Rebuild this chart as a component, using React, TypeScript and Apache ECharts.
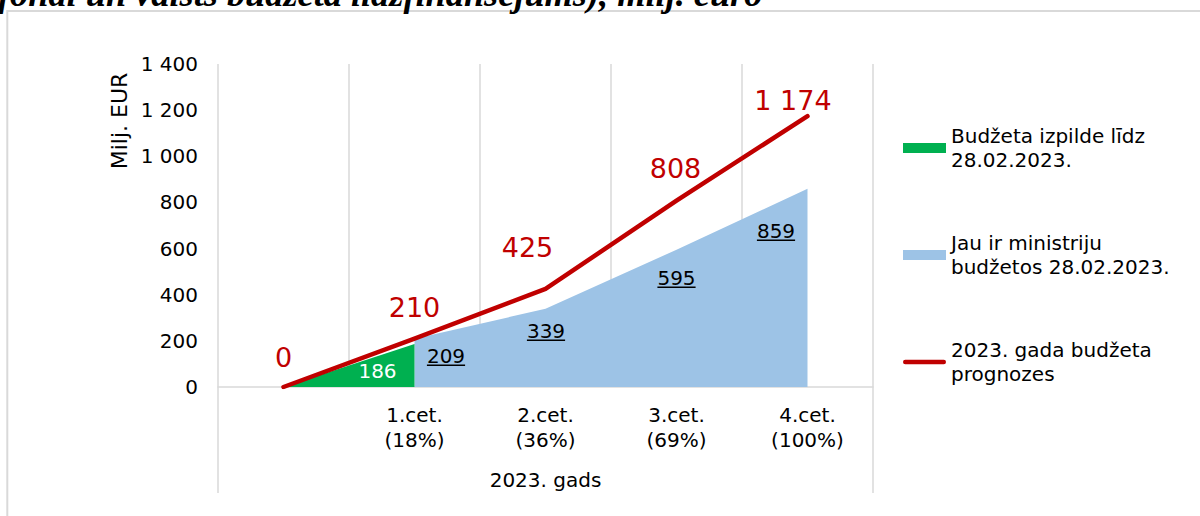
import React, { useEffect, useRef } from 'react';
import * as echarts from 'echarts';

// ---------- data ----------
const QUARTERS = ['', '1.cet.', '2.cet.', '3.cet.', '4.cet.'];
const SHARES = ['', '18%', '36%', '69%', '100%'];
const EXECUTED: (number | null)[] = [0, 186, null, null, null];
const IN_BUDGETS: (number | null)[] = [null, 209, 339, 595, 859];
const FORECAST: number[] = [0, 210, 425, 808, 1174];
const SERIES_NAMES = [
  'Budžeta izpilde līdz\n28.02.2023.',
  'Jau ir ministriju\nbudžetos 28.02.2023.',
  '2023. gada budžeta\nprognozes',
];
const Y_MIN = 0;
const Y_MAX = 1400;
const Y_STEP = 200;
const Y_NAME = 'Milj. EUR';
const X_NAME = '2023. gads';
const HEADER = 'fondi un valsts budžeta līdzfinansējums), milj. euro';

// ---------- styles ----------
const FONT = '"DejaVu Sans", Verdana, sans-serif';
const GREEN = '#00B050';
const BLUE = '#9DC3E6';
const RED = '#C00000';
const GRID_COLOR = '#D9D9D9';
const PLOT_LEFT = 218;
const PLOT_RIGHT = 873;
const PLOT_TOP = 64;
const PLOT_BOTTOM = 387;
const FRAME_BOTTOM = 493;

// label offsets (pixels from the data point to the label centre)
const FORECAST_LABEL_OFFSETS: ([number, number] | null)[] = [[0, -30], [0, -31], [-18, -41], [-1, -32], [-14.5, -16]];
const IN_BUDGETS_LABEL_OFFSETS: ([number, number] | null)[] = [null, [31.5, 17], [0.5, 22], [0, 28], [-31.5, 42]];
const EXECUTED_LABEL_OFFSETS: ([number, number] | null)[] = [null, [-37, 26.5], null, null, null];

const fmt = (v: number) => String(v).replace(/\B(?=(\d{3})+(?!\d))/g, ' ');

let measureCtx: CanvasRenderingContext2D | null = null;
const measure = (text: string, font: string) => {
  if (!measureCtx) measureCtx = document.createElement('canvas').getContext('2d');
  if (!measureCtx) return text.length * 12;
  measureCtx.font = font;
  return measureCtx.measureText(text).width;
};

function labelSeries(
  name: string,
  values: (number | null)[],
  offsets: ([number, number] | null)[],
  color: string,
  fontSize: number,
  underline: boolean
) {
  const data = values
    .map((v, i) => (v == null || offsets[i] == null ? null : [i, v]))
    .filter((d) => d !== null);
  return {
    name,
    type: 'custom',
    coordinateSystem: 'cartesian2d',
    silent: true,
    z: 10,
    data,
    encode: { x: 0, y: 1 },
    renderItem: (_params: any, api: any) => {
      const i = api.value(0) as number;
      const v = api.value(1) as number;
      const pt = api.coord([i, v]);
      const off = offsets[i] || [0, 0];
      const x = pt[0] + off[0];
      const y = pt[1] + off[1];
      const text = fmt(v);
      const children: any[] = [
        {
          type: 'text',
          x,
          y,
          style: {
            text,
            fill: color,
            fontSize,
            fontFamily: FONT,
            align: 'center',
            verticalAlign: 'middle',
          },
        },
      ];
      if (underline) {
        const w = measure(text, `${fontSize}px "DejaVu Sans"`);
        children.push({
          type: 'line',
          shape: { x1: x - w / 2, y1: y + 9.5, x2: x + w / 2, y2: y + 9.5 },
          style: { stroke: color, lineWidth: 1.5 },
        });
      }
      return { type: 'group', children };
    },
  };
}

const CATEGORY_LABELS = QUARTERS.map((q, i) => (q ? `${q}\n(${SHARES[i]})` : ''));

const option: any = {
  animation: false,
  backgroundColor: '#fff',
  grid: {
    left: PLOT_LEFT,
    right: 1200 - PLOT_RIGHT,
    top: PLOT_TOP,
    bottom: 516 - PLOT_BOTTOM,
    containLabel: false,
    outerBoundsMode: 'none',
  },
  xAxis: {
    type: 'category',
    data: CATEGORY_LABELS,
    boundaryGap: true,
    axisLine: { show: true, lineStyle: { color: GRID_COLOR, width: 1.5 } },
    axisTick: { show: false },
    splitLine: { show: true, lineStyle: { color: GRID_COLOR, width: 1.5 } },
    axisLabel: {
      interval: 0,
      margin: 15,
      fontSize: 20,
      lineHeight: 25,
      color: '#000',
      fontFamily: FONT,
    },
    name: X_NAME,
    nameLocation: 'middle',
    nameGap: 83,
    nameTextStyle: { fontSize: 20, lineHeight: 20, color: '#000', fontFamily: FONT },
  },
  yAxis: {
    type: 'value',
    min: Y_MIN,
    max: Y_MAX,
    interval: Y_STEP,
    axisLine: { show: false },
    axisTick: { show: false },
    splitLine: { show: false },
    axisLabel: {
      margin: 20,
      fontSize: 20,
      color: '#000',
      fontFamily: FONT,
      formatter: (v: number) => fmt(v),
    },
  },
  legend: {
    orient: 'vertical',
    left: 903,
    top: 112,
    padding: 0,
    itemGap: 35,
    itemWidth: 43,
    itemHeight: 10,
    selectedMode: false,
    itemStyle: { borderWidth: 0 },
    textStyle: {
      fontSize: 20,
      lineHeight: 24,
      color: '#000',
      fontFamily: FONT,
      padding: [24, 0, 0, 0],
    },
    data: [
      { name: SERIES_NAMES[0], icon: 'rect', itemStyle: { color: GREEN, borderWidth: 0 } },
      { name: SERIES_NAMES[1], icon: 'rect', itemStyle: { color: BLUE, borderWidth: 0 } },
      {
        name: SERIES_NAMES[2],
        icon: 'path://M2.25,0H40.75A2.25,2.25,0,0,1,40.75,4.5H2.25A2.25,2.25,0,0,1,2.25,0Z',
        itemStyle: { color: RED, borderWidth: 0 },
      },
    ],
  },
  graphic: [
    {
      type: 'rect',
      silent: true,
      shape: { x: 7.3, y: 11, width: 1300, height: 700 },
      style: { fill: 'none', stroke: GRID_COLOR, lineWidth: 2 },
      z: -1,
    },
    {
      type: 'text',
      x: -2,
      y: -6.5,
      silent: true,
      style: {
        text: HEADER,
        fill: '#000',
        fontSize: 36.3,
        fontStyle: 'italic',
        fontWeight: 'bold',
        fontFamily: '"Liberation Serif", "Times New Roman", serif',
        align: 'left',
        verticalAlign: 'middle',
      },
    },
    {
      type: 'text',
      x: 119,
      y: 121,
      rotation: Math.PI / 2,
      silent: true,
      style: {
        text: Y_NAME,
        fill: '#000',
        fontSize: 22,
        fontFamily: FONT,
        align: 'center',
        verticalAlign: 'middle',
      },
    },
    {
      type: 'line',
      silent: true,
      shape: { x1: PLOT_LEFT, y1: PLOT_BOTTOM, x2: PLOT_LEFT, y2: FRAME_BOTTOM },
      style: { stroke: GRID_COLOR, lineWidth: 1.5 },
    },
    {
      type: 'line',
      silent: true,
      shape: { x1: PLOT_RIGHT, y1: PLOT_BOTTOM, x2: PLOT_RIGHT, y2: FRAME_BOTTOM },
      style: { stroke: GRID_COLOR, lineWidth: 1.5 },
    },
  ],
  series: [
    {
      name: SERIES_NAMES[1],
      type: 'line',
      data: IN_BUDGETS,
      symbol: 'none',
      lineStyle: { width: 0, color: BLUE },
      itemStyle: { color: BLUE },
      areaStyle: { color: BLUE, opacity: 1 },
      z: 2,
    },
    {
      name: SERIES_NAMES[0],
      type: 'line',
      data: EXECUTED,
      symbol: 'none',
      lineStyle: { width: 0, color: GREEN },
      itemStyle: { color: GREEN },
      areaStyle: { color: GREEN, opacity: 1 },
      z: 2,
    },
    {
      name: SERIES_NAMES[2],
      type: 'line',
      data: FORECAST,
      symbol: 'none',
      lineStyle: { width: 4.5, color: RED, cap: 'round', join: 'round' },
      itemStyle: { color: RED },
      z: 3,
    },
    labelSeries('forecast-labels', FORECAST, FORECAST_LABEL_OFFSETS, RED, 27, false),
    labelSeries('budget-labels', IN_BUDGETS, IN_BUDGETS_LABEL_OFFSETS, '#000', 20, true),
    labelSeries('executed-labels', EXECUTED, EXECUTED_LABEL_OFFSETS, '#fff', 20, false),
  ],
};

export default function App() {
  const ref = useRef<HTMLDivElement>(null);
  useEffect(() => {
    if (!ref.current) return;
    const chart = echarts.init(ref.current, null, { renderer: 'svg' });
    chart.setOption(option);
    return () => chart.dispose();
  }, []);
  return (
    <div
      ref={ref}
      style={{ position: 'absolute', left: 0, top: 0, width: 1200, height: 516, background: '#fff' }}
    />
  );
}
